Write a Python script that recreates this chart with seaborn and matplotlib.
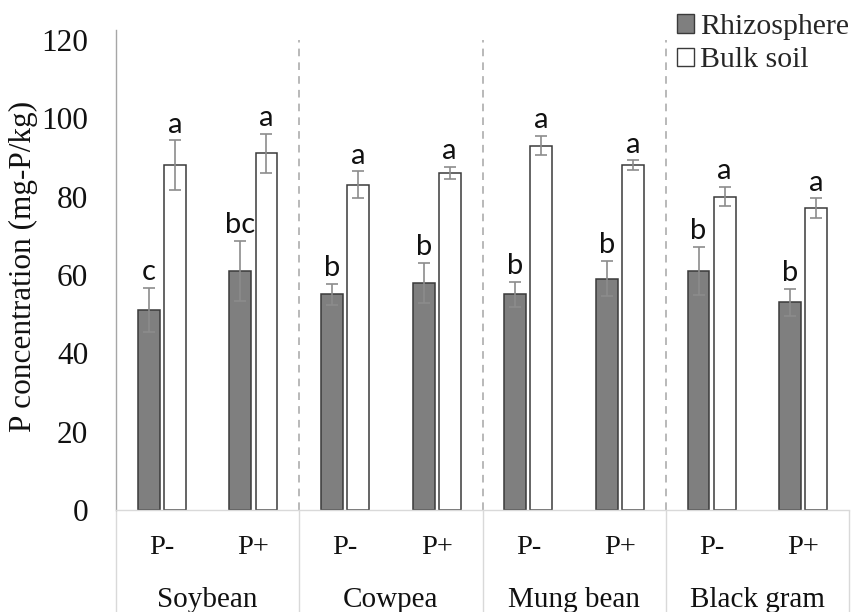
import numpy as np
import pandas as pd
import matplotlib
matplotlib.use("Agg")
import matplotlib.pyplot as plt
import matplotlib.transforms as mtrans
from matplotlib.patches import Patch
import seaborn as sns

# ---- data ----
crops = ["Soybean", "Cowpea", "Mung bean", "Black gram"]
treatments = ["P-", "P+"]
series = ["Rhizosphere", "Bulk soil"]
rhizo = [51, 61, 55, 58, 55, 59, 61, 53]
rhizo_err = [5.7, 7.6, 2.7, 5.1, 3.3, 4.5, 6.1, 3.5]
bulk = [88, 91, 83, 86, 93, 88, 80, 77]
bulk_err = [6.3, 4.9, 3.4, 1.6, 2.4, 1.2, 2.5, 2.5]
rhizo_letters = ["c", "bc", "b", "b", "b", "b", "b", "b"]
bulk_letters = ["a", "a", "a", "a", "a", "a", "a", "a"]
yticks = [0, 20, 40, 60, 80, 100, 120]

sns.set_theme(style="white")
plt.rcParams["font.family"] = ["Liberation Serif", "DejaVu Serif"]

keys = [f"{c} {t}" for c in crops for t in treatments]
df = pd.DataFrame({
    "key": keys * 2,
    "series": [series[0]] * 8 + [series[1]] * 8,
    "value": rhizo + bulk,
})

fig = plt.figure(figsize=(8.51, 6.12), dpi=100)
ax = fig.add_axes([116 / 851, 1 - 510 / 612, (849 - 116) / 851, (510 - 30) / 612])

colors = {"Rhizosphere": "#7f7f7f", "Bulk soil": "#ffffff"}
sns.barplot(data=df, x="key", y="value", hue="series", order=keys,
            hue_order=series, palette=colors, saturation=1, errorbar=None,
            width=0.57, gap=0.16, edgecolor="#3a3a3a", linewidth=1.1,
            legend=False, ax=ax)

# error bars + letters
for cont, errs, letters in zip(ax.containers, [rhizo_err, bulk_err],
                               [rhizo_letters, bulk_letters]):
    for bar, e, lab in zip(cont, errs, letters):
        xc = bar.get_x() + bar.get_width() / 2
        h = bar.get_height()
        ax.errorbar(xc, h, yerr=e, fmt="none", ecolor="#8c8c8c",
                    elinewidth=1.2, capsize=4.5, capthick=1.2, zorder=3)
        ax.annotate(lab, (xc, h + e), xytext=(0, 2), textcoords="offset points",
                    ha="center", va="bottom", fontsize=21, family="Lato",
                    color="#111111")

ax.set_xlim(-0.5, 7.5)
ax.set_ylim(0, 122.5)
ax.set_yticks(yticks)
ax.set_yticklabels([str(v) for v in yticks])
ax.set_xticks(range(8))
ax.set_xticklabels(treatments * 4)
ax.tick_params(axis="y", length=0, pad=20, labelsize=22.5, labelcolor="#111111")
ax.tick_params(axis="x", length=0, pad=18, labelsize=20.5, labelcolor="#111111")
ax.set_xlabel("")
ax.set_ylabel("")

for s in ["top", "right"]:
    ax.spines[s].set_visible(False)
ax.spines["left"].set_color("#a6a6a6")
ax.spines["left"].set_linewidth(1.0)
ax.spines["bottom"].set_color("#d9d9d9")
ax.spines["bottom"].set_linewidth(1.0)

# dashed separators
for xb in [1.5, 3.5, 5.5]:
    ax.axvline(xb, ymin=0, ymax=0.98, color="#a6a6a6", lw=1.1,
               linestyle=(0, (5, 4)), zorder=0)

# table-like lines below axis
trans = mtrans.blended_transform_factory(ax.transData, ax.transAxes)
ax.vlines([-0.5, 1.5, 3.5, 5.5, 7.5], -0.215, 0, transform=trans,
          colors="#d9d9d9", lw=1.0, clip_on=False)

# group labels
for i, c in enumerate(crops):
    ax.text(2 * i + 0.5, -0.202, c, transform=trans, ha="center",
            va="baseline", fontsize=21, color="#111111")

fig.text(23 / 851, 1 - 266 / 612, "P concentration (mg-P/kg)", rotation=90,
         ha="center", va="center", fontsize=22.5, color="#111111")

handles = [Patch(facecolor=colors[s], edgecolor="#3a3a3a", linewidth=1.0)
           for s in series]
fig.legend(handles, series, loc="upper left",
           bbox_to_anchor=(677 / 851, 1 - 14 / 612), frameon=False,
           fontsize=21.5, handlelength=0.57, handleheight=0.57,
           handletextpad=0.2, labelspacing=0.25, borderpad=0,
           borderaxespad=0)

fig.savefig("out.png", dpi=100)
